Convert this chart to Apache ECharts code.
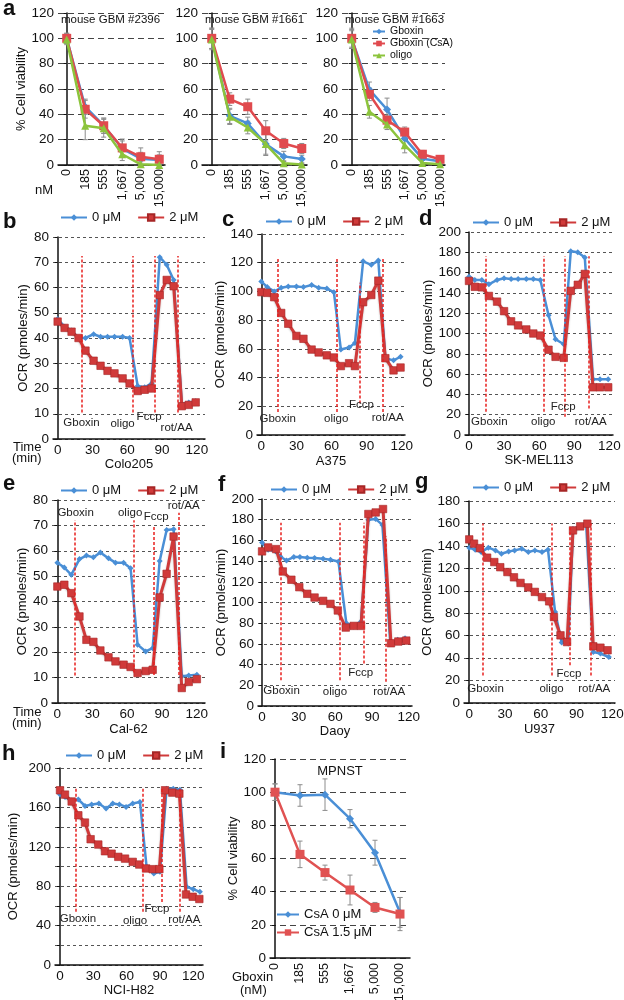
<!DOCTYPE html>
<html><head><meta charset="utf-8">
<script src="https://cdn.jsdelivr.net/npm/echarts@6/dist/echarts.min.js"></script>
<style>html,body{margin:0;padding:0;background:#fff}#c{width:624px;height:1000px}</style>
</head><body><div id="c"></div><script>
// ---------------- DATA ----------------
const doseLabels = ['0','185','555','1,667','5,000','15,000'];
const doseIndex = [0,1,2,3,4,5];
const timeTicks = [0,30,60,90,120];
const injNames = ['Gboxin','oligo','Fccp','rot/AA'];

// a: mouse GBM viability (%)
const gbm2396Gboxin = [100,46,31,13,5,4];
const gbm2396GboxinCsA = [100,44,31,13.5,6.5,4.5];
const gbm2396Oligo = [99,31,29,8.5,0.5,0];
const gbm2396GboxinErr = [4,6,6,6,5,4];
const gbm2396GboxinCsAErr = [4,7,6,7,7,6];
const gbm2396OligoErr = [4,11,7,5,2,1];

const gbm1661Gboxin = [100,38.8,32.8,16.5,6.8,4.7];
const gbm1661GboxinCsA = [100,52,46,27,17,13];
const gbm1661Oligo = [99,38,29.6,16.5,1.3,0.3];
const gbm1661GboxinErr = [8,6,5,9,4,3];
const gbm1661GboxinCsAErr = [8,5,6,8,4,4];
const gbm1661OligoErr = [8,6,5,8,2,1];

const gbm1663Gboxin = [100,59.5,43.8,21,5,3];
const gbm1663GboxinCsA = [100,55.8,35.4,26,8.5,4.5];
const gbm1663Oligo = [99,42,32,15.6,1.6,0.5];
const gbm1663GboxinErr = [8,6,9,6,3,2];
const gbm1663GboxinCsAErr = [7,5,4,4,3,3];
const gbm1663OligoErr = [7,5,4,6,2,1];

// b: Colo205
const colo205Time = [0,6,12,18,24,31,37,43,49,56,62,69,75,81,88,94,100,107,113,119];
const colo205Ctrl = [47.5,44.5,43,40,40,41.5,40.5,40.5,40.5,40.5,40,21,20.5,22,72,69,63,14,14.5,15];
const colo205Gbx = [46.5,44,42.5,40,35,31,29,27,26,24,22,19,19.5,20,57,63,60.5,13,13.5,14.5];
const colo205Inj = [21,65,83.5,103.5];
const colo205InjLow = [10.5,10.5,10.5,10.5];
const colo205InjHigh = [72.5,72.5,72.5,72.5];

// c: A375
const a375Time = [0,5,11,17,23,30,36,43,49,56,62,68,75,80,87,94,100,106,113,119];
const a375Ctrl = [107,103,100,102.5,103.5,103.5,103,104.5,102.5,102,99.5,59.5,61,64,121,118.5,121.5,53.5,52,54.5];
const a375Gbx = [99.5,99,96,85,77.5,69,67,59.5,57.5,55.5,54,48,50,48,92.5,97.5,107.5,53.5,45,47];
const a375Inj = [14,64.7,84,104];
const a375InjLow = [16,16,22,16];
const a375InjHigh = [124,124,106,124];

// d: SK-MEL113
const skmelTime = [0,5,11,17,24,30,36,42,49,55,61,68,74,81,87,93,99,106,112,119];
const skmelCtrl = [156,152.8,152.8,148.5,152.8,154.4,153.7,153.7,153.7,153.7,152.8,118,94.3,89.4,181,180,174.8,55,55,55];
const skmelGbx = [151.8,146,145.5,137,131.4,122,112,108,104,100,98,84,77,76,142,148,158.7,47,47,47];
const skmelInj = [14.5,64,81.5,102];
const skmelInjLow = [23,23,18,26];
const skmelInjHigh = [176,176,176,176];

// e: Cal-62
const cal62Time = [0,6,12,19,25,31,37,44,50,57,63,69,76,82,88,94,100,107,113,120];
const cal62Ctrl = [55.3,53.4,50.5,56.7,58.1,57.4,59.3,57,55.3,55.3,53.1,23,20.3,21.6,56,68.2,68.5,10.5,10.8,11.1];
const cal62Gbx = [45.9,46.6,43.3,34.1,24.9,24.1,20.7,18,16.4,15.1,14.2,11.8,12.6,13.1,41.6,50.9,65.6,5.9,8.3,9.4];
const cal62Inj = [15.3,66,83,104];
const cal62InjLow = [10.8,12,11,11];
const cal62InjHigh = [72,72,70,75];

// f: Daoy
const daoyCtrlTime = [0,5,11,15,20,26,31,37,43,50,56,62.5,69,75,81,87,93,98.5,105,111,117];
const daoyCtrl = [158,151,149.4,144.5,140.6,143.9,143.9,143.2,142.9,142.3,141.3,139.7,80,76.8,81.6,180,180.6,175,60.6,63.9,65.5];
const daoyGbxTime = [0,5,11.5,17,24,30.5,37,43,50,56,62,68.5,75,81,87,93,99,105.5,111.5,118];
const daoyGbx = [149.4,153.2,151.6,130,122,114.8,108.4,104.8,101.6,98.7,92.3,75.8,77.4,77.4,185.5,187,190.3,60.6,62.3,63.2];
const daoyInj = [15.5,63.3,83,101.2];
const daoyInjLow = [25,25,41,23.5];
const daoyInjHigh = [177,177,177,164];

// g: U937
const u937CtrlTime = [0,5,10,16,22,27,33,38,44,49.5,55,61,66,72,77.5,83,87,93,98,104,110,117];
const u937Ctrl = [138.4,136.6,134.5,138.4,136,133,135,136,137.5,134.5,136,134.5,136.6,81,54,53,155,158,160,45.4,44,41];
const u937GbxTime = [0,4,9,15,21,26,32,37.5,43,49.5,55,61,67,71,76.5,82,87,93,99,104,110,116];
const u937Gbx = [145.8,142,138,129.5,125.6,121,116.7,112,107,103,99,94.4,90.6,76.6,60.3,54.3,153.8,157.4,159.8,50.5,49.3,47];
const u937Inj = [11.7,69,84,102];
const u937InjLow = [24.6,24.6,33.6,24.6];
const u937InjHigh = [160,160,158,160];

// h: NCI-H82
const nciCtrlTime = [0,4.5,10,16.5,22.5,28.5,35,41.5,47.5,53.5,59.5,65.5,72,78,84.5,90,96,102,108,114,120,126];
const nciCtrl = [173,170.6,167,168,161.5,163,164,158.8,164,163,160.5,164,165.5,99.7,92.9,94.6,179,179,178,79.4,77,74.3];
const nciGbxTime = [0,4.5,10.5,16.5,22.5,27.6,34.5,40.5,46.5,52.5,58.6,65.5,71.4,77.5,83.5,89.5,94.6,101.2,107.5,113.5,119.5,125.5];
const nciGbx = [177.4,173,166,152,144.6,127.7,122.3,115.5,113,109.8,108,104.7,102,98,97.3,97.3,177.4,175,174,71.6,69.3,67];
const nciInj = [14.4,74.5,91.6,108];
const nciInjLow = [54,54,64,54];
const nciInjHigh = [180.7,180.7,180.7,180.7];

// i: MPNST
const mpnstCsA0 = [100,98,98.5,84,63.5,27.5];
const mpnstCsA0Err = [5,6.5,9.5,5.5,7.5,9];
const mpnstCsA15 = [100,62.5,51.5,41,30.5,26.5];
const mpnstCsA15Err = [5,8,4.5,9,3,10];

// ---------------- STYLE / LAYOUT ----------------
const FONT = "'Liberation Sans', Arial, Helvetica, sans-serif";
const BLUE = '#4a8fd6', RED = '#d03a3a', GREEN = '#8cc43c';
const INK = '#111';

const option = {animation:false, textStyle:{fontFamily:FONT, color:INK},
  grid:[], xAxis:[], yAxis:[], series:[], legend:[], title:[], graphic:[]};

const zip = (t, v) => t.map((x, i) => [x, v[i]]);

function addGrid(g){
  option.grid.push({left:g[0], top:g[1], width:g[2], height:g[3], containLabel:false, outerBoundsMode:'none'});
  return option.grid.length - 1;
}

function errBars(gi, vals, errs){
  return {type:'custom', xAxisIndex:gi, yAxisIndex:gi, silent:true, z:1, clip:false,
    data: vals.map((v, i) => [i, Math.max(0, v - errs[i]), v + errs[i]]),
    renderItem:(p, api) => {
      const x = api.value(0);
      const a = api.coord([x, api.value(1)]), b = api.coord([x, api.value(2)]);
      const w = 2.5, st = {stroke:'#8c8c8c', lineWidth:1};
      return {type:'group', children:[
        {type:'line', shape:{x1:a[0], y1:a[1], x2:b[0], y2:b[1]}, style:st},
        {type:'line', shape:{x1:a[0]-w, y1:a[1], x2:a[0]+w, y2:a[1]}, style:st},
        {type:'line', shape:{x1:b[0]-w, y1:b[1], x2:b[0]+w, y2:b[1]}, style:st}
      ]};
    }};
}

// ---- panel a ----
const aPanels = [
  {g:[58,13,107,152], min:-0.47, max:5.31, title:'mouse GBM #2396', blue:gbm2396Gboxin, red:gbm2396GboxinCsA, green:gbm2396Oligo,
   be:gbm2396GboxinErr, re:gbm2396GboxinCsAErr, ge:gbm2396OligoErr, yname:'% Cell viability'},
  {g:[202,13,105,152], min:-0.54, max:5.29, title:'mouse GBM #1661', blue:gbm1661Gboxin, red:gbm1661GboxinCsA, green:gbm1661Oligo,
   be:gbm1661GboxinErr, re:gbm1661GboxinCsAErr, ge:gbm1661OligoErr, yname:''},
  {g:[342,13,103,152], min:-0.55, max:5.28, title:'mouse GBM #1663', blue:gbm1663Gboxin, red:gbm1663GboxinCsA, green:gbm1663Oligo,
   be:gbm1663GboxinErr, re:gbm1663GboxinCsAErr, ge:gbm1663OligoErr, yname:''}
];
aPanels.forEach(p => {
  const gi = addGrid(p.g);
  option.xAxis.push({gridIndex:gi, type:'value', min:p.min, max:p.max,
    axisLine:{lineStyle:{color:INK, width:1.5}}, axisTick:{show:false}, splitLine:{show:false},
    axisLabel:{customValues:doseIndex, formatter:v => doseLabels[Math.round(v)] || '', rotate:90, fontSize:12.5, color:INK, margin:4}});
  option.yAxis.push({gridIndex:gi, type:'value', min:0, max:120, interval:20,
    axisLine:{show:true, lineStyle:{color:INK, width:1.5}}, axisTick:{show:true, length:3, lineStyle:{color:INK}},
    axisLabel:{fontSize:13.5, color:INK, margin:4},
    splitLine:{show:true, lineStyle:{color:'#444', type:[6,4], width:1}},
    name:p.yname, nameLocation:'middle', nameGap:27, nameTextStyle:{fontSize:13, color:INK}});
  option.series.push(errBars(gi, p.blue, p.be), errBars(gi, p.red, p.re), errBars(gi, p.green, p.ge));
  option.series.push(
    {type:'line', name:'Gboxin', xAxisIndex:gi, yAxisIndex:gi, data:zip(doseIndex, p.blue), symbol:'diamond', symbolSize:8,
     lineStyle:{color:BLUE, width:2.5}, itemStyle:{color:BLUE}, z:3},
    {type:'line', name:'Gboxin (CsA)', xAxisIndex:gi, yAxisIndex:gi, data:zip(doseIndex, p.red), symbol:'rect', symbolSize:9,
     lineStyle:{color:'#e04a4e', width:2.5}, itemStyle:{color:'#e04a4e'}, z:4},
    {type:'line', name:'oligo', xAxisIndex:gi, yAxisIndex:gi, data:zip(doseIndex, p.green), symbol:'triangle', symbolSize:8,
     lineStyle:{color:GREEN, width:2.5}, itemStyle:{color:GREEN}, z:5});
  option.title.push({text:p.title, left:p.g[0]+3, top:14, padding:0, textStyle:{fontSize:11.5, fontWeight:'normal', color:INK, fontFamily:FONT}});
});
option.legend.push({data:['Gboxin','Gboxin (CsA)','oligo'], orient:'vertical', left:372, top:26, padding:0,
  itemWidth:12, itemHeight:7, itemGap:1, textStyle:{fontSize:10.5, color:INK, fontFamily:FONT}});

// ---- OCR panels ----
const ocrPanels = [
  {g:[53,237,152,202], min:-4, max:127, yMax:80, step:10, lab:10, name:'Colo205', nameGap:16, yGap:21,
   ct:colo205Time, c:colo205Ctrl, gt:colo205Time, gv:colo205Gbx, inj:colo205Inj, lo:colo205InjLow, hi:colo205InjHigh,
   notes:[[20.6,6.3],[56,6],[78.8,8.7],[102.5,4.4]], leg:[60,211]},
  {g:[257,234,148,201], min:-3.7, max:122.8, yMax:140, step:20, lab:20, name:'A375', nameGap:20, yGap:27,
   ct:a375Time, c:a375Ctrl, gt:a375Time, gv:a375Gbx, inj:a375Inj, lo:a375InjLow, hi:a375InjHigh,
   notes:[[14,11],[64,11],[85.5,21],[108,12]], leg:[265,215]},
  {g:[465,232,148,203], min:-3.4, max:123.1, yMax:200, step:20, lab:20, name:'SK-MEL113', nameGap:18, yGap:29,
   ct:skmelTime, c:skmelCtrl, gt:skmelTime, gv:skmelGbx, inj:skmelInj, lo:skmelInjLow, hi:skmelInjHigh,
   notes:[[17.4,12.5],[63.5,12.5],[80.6,28],[104,12.5]], leg:[472,216]},
  {g:[52,500,153,203], min:-4.6, max:127, yMax:80, step:10, lab:10, name:'Cal-62', nameGap:20, yGap:23,
   ct:cal62Time, c:cal62Ctrl, gt:cal62Time, gv:cal62Gbx, inj:cal62Inj, lo:cal62InjLow, hi:cal62InjHigh,
   notes:[[15.7,75],[62.6,75],[85,73.4],[108.6,77.6]], leg:[60,484]},
  {g:[258,499,154,207], min:-3.3, max:122.7, yMax:200, step:20, lab:20, name:'Daoy', nameGap:17, yGap:26,
   ct:daoyCtrlTime, c:daoyCtrl, gt:daoyGbxTime, gv:daoyGbx, inj:daoyInj, lo:daoyInjLow, hi:daoyInjHigh,
   notes:[[16,14.8],[59.7,13.9],[80.8,31.6],[104,13.9]], leg:[270,483]},
  {g:[464,501,151,202], min:-4.4, max:122.2, yMax:180, step:20, lab:20, name:'U937', nameGap:20, yGap:27,
   ct:u937CtrlTime, c:u937Ctrl, gt:u937GbxTime, gv:u937Gbx, inj:u937Inj, lo:u937InjLow, hi:u937InjHigh,
   notes:[[13.7,12.8],[69,12.8],[83.6,26],[104.8,12.8]], leg:[472,481]},
  {g:[55,768,148,197], min:-4.5, max:128.8, yMax:200, step:20, lab:40, name:'NCI-H82', nameGap:15, yGap:35,
   ct:nciCtrlTime, c:nciCtrl, gt:nciGbxTime, gv:nciGbx, inj:nciInj, lo:nciInjLow, hi:nciInjHigh,
   notes:[[16.2,47.3],[67.6,44.6],[87.4,57.4],[112,45.6]], leg:[65,749]}
];
ocrPanels.forEach(p => {
  const gi = addGrid(p.g);
  option.xAxis.push({gridIndex:gi, type:'value', min:p.min, max:p.max,
    axisLine:{lineStyle:{color:INK, width:1.5}}, axisTick:{show:false}, splitLine:{show:false},
    axisLabel:{customValues:timeTicks, fontSize:13.5, color:INK, margin:4},
    name:p.name, nameLocation:'middle', nameGap:p.nameGap, nameTextStyle:{fontSize:13, color:INK, verticalAlign:'top'}});
  option.yAxis.push({gridIndex:gi, type:'value', min:0, max:p.yMax, interval:p.step,
    axisLine:{show:true, lineStyle:{color:INK, width:1.5}}, axisTick:{show:true, length:3, lineStyle:{color:INK}},
    axisLabel:{fontSize:13.5, color:INK, margin:4, formatter:v => (v % p.lab === 0 ? String(v) : '')},
    splitLine:{show:true, lineStyle:{color:'#555', type:[3,3], width:1}},
    name:'OCR (pmoles/min)', nameLocation:'middle', nameGap:p.yGap, nameTextStyle:{fontSize:13, color:INK}});
  // injection markers and labels
  option.series.push({type:'line', name:'inj', xAxisIndex:gi, yAxisIndex:gi, data:[], z:2, silent:true,
    markLine:{silent:true, symbol:['none','none'], label:{show:false},
      lineStyle:{color:'#e8201f', type:[3,2], width:1.5},
      data:p.inj.map((t, k) => [{coord:[t, p.lo[k]]}, {coord:[t, p.hi[k]]}])},
    markPoint:{silent:true, symbol:'circle', symbolSize:1, itemStyle:{color:'rgba(0,0,0,0)'},
      label:{show:true, position:'inside', formatter:'{b}', fontSize:11.5, color:'#222', fontFamily:FONT},
      data:injNames.map((n, k) => ({name:n, coord:p.notes[k]}))}});
  option.series.push(
    {type:'line', name:'0 μM', xAxisIndex:gi, yAxisIndex:gi, data:zip(p.ct, p.c), symbol:'diamond', symbolSize:6,
     lineStyle:{color:BLUE, width:2.5}, itemStyle:{color:BLUE}, z:3},
    {type:'line', name:'2 μM', xAxisIndex:gi, yAxisIndex:gi, data:zip(p.gt, p.gv), symbol:'rect', symbolSize:7.5,
     lineStyle:{color:RED, width:3, shadowColor:'rgba(0,0,0,0.25)', shadowBlur:2, shadowOffsetY:1},
     itemStyle:{color:RED, borderColor:'#a62626', borderWidth:0.6}, z:4});
  option.legend.push({data:['0 μM','2 μM'], left:p.leg[0], top:p.leg[1], padding:0, itemWidth:26, itemHeight:8, itemGap:16,
    textStyle:{fontSize:13, color:INK, fontFamily:FONT}});
});

// ---- panel i ----
(() => {
  const gi = addGrid([270,759,140,199]);
  option.xAxis.push({gridIndex:gi, type:'value', min:-0.2, max:5.4,
    axisLine:{lineStyle:{color:INK, width:1.5}}, axisTick:{show:false}, splitLine:{show:false},
    axisLabel:{customValues:doseIndex, formatter:v => doseLabels[Math.round(v)] || '', rotate:90, fontSize:12.5, color:INK, margin:5}});
  option.yAxis.push({gridIndex:gi, type:'value', min:0, max:120, interval:20,
    axisLine:{show:true, lineStyle:{color:INK, width:1.5}}, axisTick:{show:true, length:3, lineStyle:{color:INK}},
    axisLabel:{fontSize:13.5, color:INK, margin:4},
    splitLine:{show:true, lineStyle:{color:'#444', type:[6,4], width:1}},
    name:'% Cell viability', nameLocation:'middle', nameGap:26, nameTextStyle:{fontSize:13, color:INK}});
  option.series.push(errBars(gi, mpnstCsA0, mpnstCsA0Err), errBars(gi, mpnstCsA15, mpnstCsA15Err));
  option.series.push(
    {type:'line', name:'CsA 0 μM', xAxisIndex:gi, yAxisIndex:gi, data:zip(doseIndex, mpnstCsA0), symbol:'diamond', symbolSize:8,
     lineStyle:{color:BLUE, width:2.5}, itemStyle:{color:BLUE}, z:3},
    {type:'line', name:'CsA 1.5 μM', xAxisIndex:gi, yAxisIndex:gi, data:zip(doseIndex, mpnstCsA15), symbol:'rect', symbolSize:9,
     lineStyle:{color:'#e05252', width:2.5}, itemStyle:{color:'#e05252'}, z:4});
  option.legend.push({data:['CsA 0 μM','CsA 1.5 μM'], orient:'vertical', left:276, top:908, padding:0, itemWidth:22, itemHeight:8, itemGap:5,
    textStyle:{fontSize:13, color:INK, fontFamily:FONT}});
  option.title.push({text:'MPNST', left:340, textAlign:'center', top:765, padding:0, textStyle:{fontSize:13, fontWeight:'normal', color:INK, fontFamily:FONT}});
})();

// ---- free text ----
const T = (text, x, y, size, weight, align) => ({type:'text', x, y, silent:true,
  style:{text, fill:INK, font:(weight||'normal') + ' ' + size + 'px ' + FONT, textAlign:align||'left', textVerticalAlign:'middle'}});
option.graphic = [
  T('a',3,9,22,'bold'), T('b',3,222,22,'bold'), T('c',222,220,22,'bold'), T('d',419,219,22,'bold'),
  T('e',3,484,22,'bold'), T('f',218,485,22,'bold'), T('g',415,482,22,'bold'), T('h',2,754,22,'bold'), T('i',220,752,22,'bold'),
  T('nM',35,190,13), T('Time',13,447,13), T('(min)',12,458,13), T('Time',13,712,13), T('(min)',12,723,13),
  T('Gboxin',232,977,13), T('(nM)',240,990,13)
];

const chart = echarts.init(document.getElementById('c'), null, {renderer:'canvas'});
chart.setOption(option);
</script></body></html>
